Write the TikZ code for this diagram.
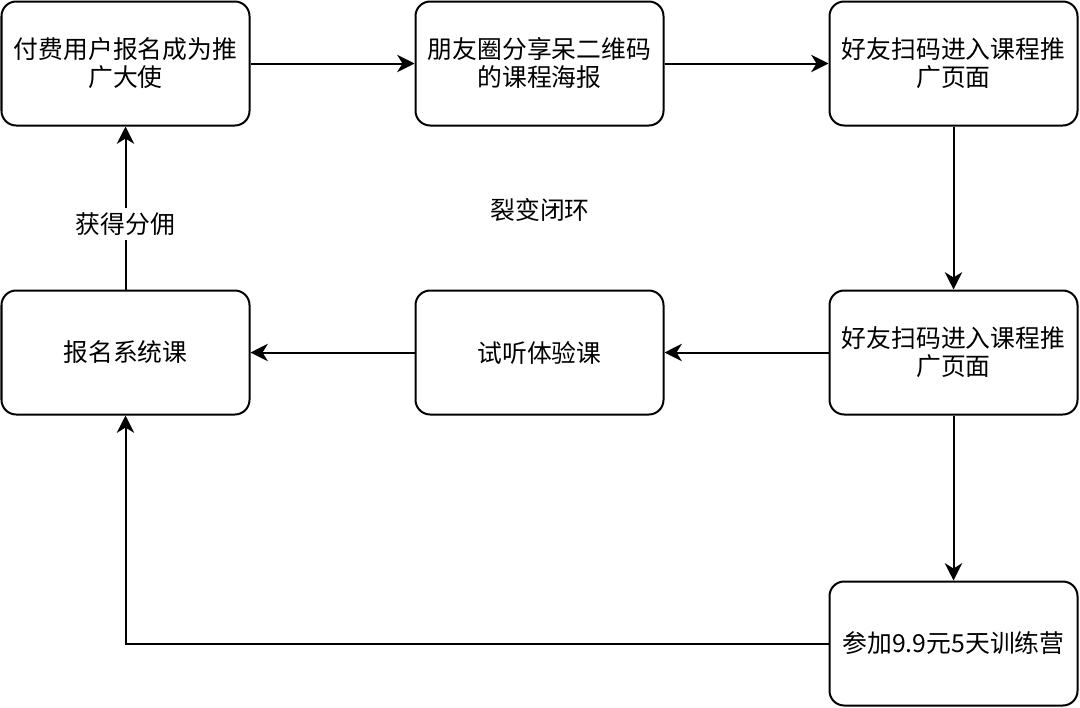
\documentclass[tikz,border=0pt]{standalone}
\usepackage{fontspec}
\setmainfont{Noto Sans CJK SC}
\usetikzlibrary{positioning,arrows.meta}

\begin{document}
\begin{tikzpicture}[x=0.75pt,y=-0.75pt,on grid,node distance=310.5pt,
    stage/.style={draw,line width=1.5pt,rounded corners=11pt,minimum width=186pt,
      minimum height=93pt,align=center,font=\fontsize{18.6}{21}\selectfont},
    >={Stealth[length=13pt,width=13pt,inset=4pt]},line width=1.5pt]
    \useasboundingbox (0,0) rectangle (1080,707);
    \node[stage] (join) at (125.5,63.5) {付费用户报名成为推\\广大使};
    \node[stage] (share)[right=of join] {朋友圈分享呆二维码\\的课程海报};
    \node[stage] (scan)[right=of share] {好友扫码进入课程推\\广页面};
    \node[stage] (scanb)[below=216.75pt of scan] {好友扫码进入课程推\\广页面};
    \node[stage] (trial)[left=of scanb] {试听体验课};
    \node[stage] (course)[left=of trial] {报名系统课};
    \node[stage] (camp)[below=218.25pt of scanb] {参加9.9元5天训练营};
    \node[font=\fontsize{18.6}{21}\selectfont] (loop) at (540,210) {裂变闭环};
    \path[->]
    (join) edge (share)
    (share) edge (scan)
    (scan) edge (scanb)
    (scanb) edge (trial)
          edge (camp)
    (trial) edge (course)
    (course) edge node[pos=0.4,fill=white,font=\fontsize{18.6}{21}\selectfont] {获得分佣} (join);
    \draw[->] (camp) -| (course);
\end{tikzpicture}
\end{document}
